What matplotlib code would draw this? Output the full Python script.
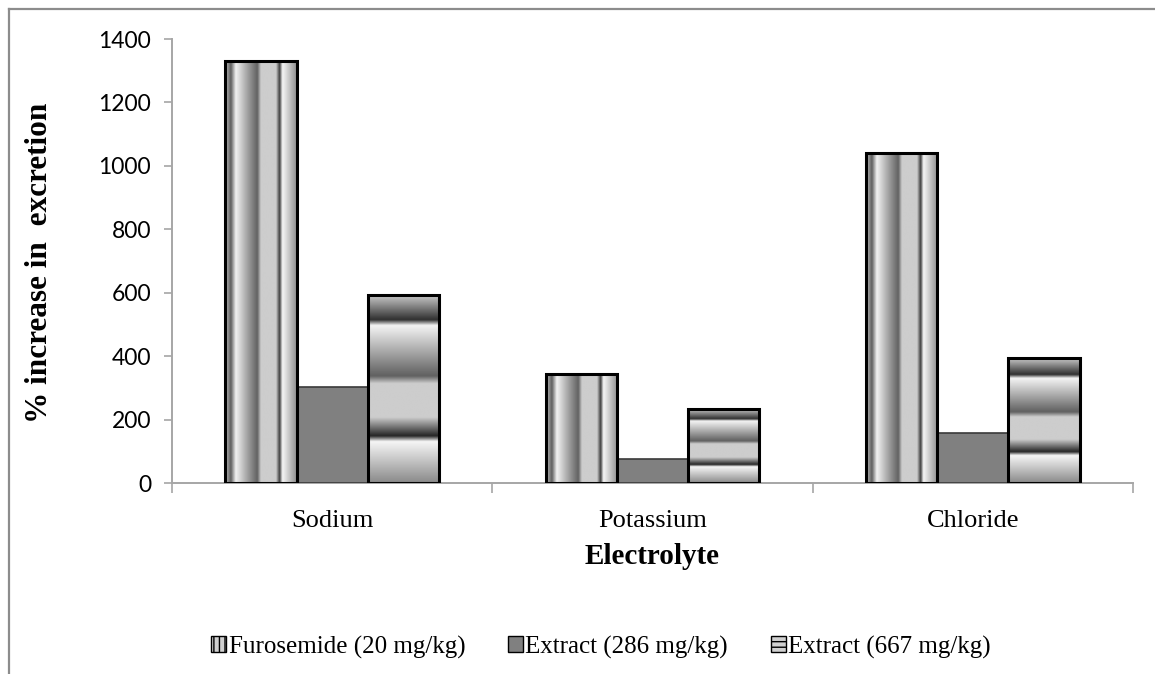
import numpy as np
import matplotlib
matplotlib.use("Agg")
import matplotlib.pyplot as plt
from matplotlib.colors import LinearSegmentedColormap
from matplotlib.patches import Patch
from matplotlib.lines import Line2D

# ---- data ----
categories = ["Sodium", "Potassium", "Chloride"]
series_names = ["Furosemide (20 mg/kg)", "Extract (286 mg/kg)", "Extract (667 mg/kg)"]
furosemide = [1332, 345, 1042]
extract_286 = [302, 76, 157]
extract_667 = [592, 232, 394]
y_ticks = [0, 200, 400, 600, 800, 1000, 1200, 1400]

SERIF = ["Liberation Serif", "DejaVu Serif"]
SANS = ["Lato", "DejaVu Sans"]

fig = plt.figure(figsize=(11.55, 6.74), dpi=100)
ax = fig.add_axes([172 / 1155, 1 - 483 / 674, (1133 - 172) / 1155, (483 - 39) / 674])

stripe_cmap = LinearSegmentedColormap.from_list(
    "stripe",
    [(0.00, "#c4c4c4"), (0.08, "#5e5e5e"), (0.15, "#f2f2f2"), (0.30, "#a8a8a8"),
     (0.45, "#626262"), (0.50, "#cdcdcd"), (0.71, "#cdcdcd"), (0.76, "#3c3c3c"),
     (0.80, "#f6f6f6"), (1.00, "#8e8e8e")])
band_cmap = LinearSegmentedColormap.from_list(
    "band",
    [(0.00, "#c8c8c8"), (0.13, "#303030"), (0.16, "#f4f4f4"), (0.30, "#a8a8a8"),
     (0.43, "#606060"), (0.47, "#cdcdcd"), (0.65, "#cdcdcd"), (0.75, "#252525"),
     (0.78, "#f6f6f6"), (1.00, "#8a8a8a")])

n_series = 3
bw = 1.0 / (n_series + 1.5)
x = np.arange(1, len(categories) + 1)
offsets = [-bw, 0.0, bw]

b1 = ax.bar(x + offsets[0], furosemide, width=bw, facecolor="none",
            edgecolor="black", linewidth=2.2, zorder=4)
b2 = ax.bar(x + offsets[1], extract_286, width=bw, facecolor="#808080",
            edgecolor="#3a3a3a", linewidth=1.2, zorder=3)
b3 = ax.bar(x + offsets[2], extract_667, width=bw, facecolor="none",
            edgecolor="black", linewidth=2.2, zorder=4)

grad_h = np.linspace(0, 1, 512)[None, :]
grad_v = np.linspace(0, 1, 512)[:, None]
for rect in b1:
    x0, w, h = rect.get_x(), rect.get_width(), rect.get_height()
    im = ax.imshow(grad_h, cmap=stripe_cmap, extent=[x0, x0 + w, 0, h],
                   aspect="auto", interpolation="bilinear", zorder=2)
    im.set_clip_path(rect)
for rect in b3:
    x0, w, h = rect.get_x(), rect.get_width(), rect.get_height()
    im = ax.imshow(grad_v, cmap=band_cmap, extent=[x0, x0 + w, 0, h],
                   origin="upper", aspect="auto", interpolation="bilinear", zorder=2)
    im.set_clip_path(rect)

ax.set_xlim(0.5, len(categories) + 0.5)
ax.set_ylim(0, 1400)

for s in ["top", "right"]:
    ax.spines[s].set_visible(False)
for s in ["left", "bottom"]:
    ax.spines[s].set_color("#a6a6a6")
    ax.spines[s].set_linewidth(1.4)

ax.set_yticks(y_ticks)
ax.set_yticklabels([str(v) for v in y_ticks], fontfamily=SANS, fontsize=16.5)
ax.tick_params(axis="y", direction="out", length=6, width=1.2, color="#a6a6a6", pad=9)

ax.set_xticks(np.arange(0.5, len(categories) + 1, 1.0))
ax.set_xticklabels([])
ax.tick_params(axis="x", which="major", direction="out", length=7, width=1.2, color="#a6a6a6")
ax.set_xticks(x, minor=True)
ax.set_xticklabels(categories, minor=True, fontfamily=SERIF, fontsize=19)
ax.tick_params(axis="x", which="minor", length=0, pad=19.5)

fig.text(40 / 1155, 1 - 263 / 674, "% increase in  excretion", rotation=90,
         ha="center", va="center", fontfamily=SERIF, fontsize=22.5, fontweight="bold")
fig.text(652 / 1155, 1 - 557 / 674, "Electrolyte", ha="center", va="center",
         fontfamily=SERIF, fontsize=21, fontweight="bold")

plt.rcParams["hatch.linewidth"] = 1.0
handles = [
    Patch(facecolor="#d0d0d0", edgecolor="black", hatch="|||", linewidth=1.0),
    Patch(facecolor="#808080", edgecolor="black", linewidth=1.0),
    Patch(facecolor="#d0d0d0", edgecolor="black", hatch="---", linewidth=1.0),
]
leg = fig.legend(handles, series_names, loc="center", ncol=3,
                 bbox_to_anchor=(601 / 1155, 1 - 647 / 674),
                 frameon=False, prop={"family": SERIF, "size": 18},
                 handlelength=0.6, handleheight=0.6, handletextpad=0.1,
                 columnspacing=1.7)

# outer border (left and top)
fig.add_artist(Line2D([9 / 1155, 9 / 1155], [0, 1 - 9 / 674], transform=fig.transFigure,
                      color="#8c8c8c", linewidth=1.6))
fig.add_artist(Line2D([9 / 1155, 1], [1 - 9 / 674, 1 - 9 / 674], transform=fig.transFigure,
                      color="#8c8c8c", linewidth=1.6))

fig.savefig("out.png", dpi=100)
